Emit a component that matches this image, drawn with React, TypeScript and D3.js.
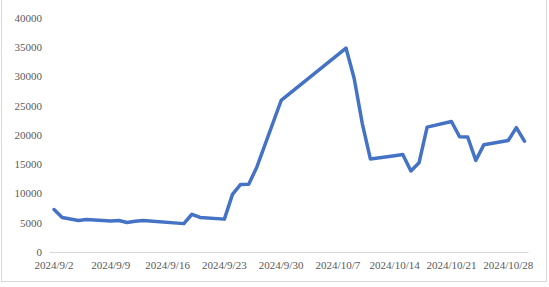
import React from "react";
import * as d3 from "d3";

const dates = [
  "2024-09-02","2024-09-03","2024-09-04","2024-09-05","2024-09-06",
  "2024-09-09","2024-09-10","2024-09-11","2024-09-12","2024-09-13",
  "2024-09-18","2024-09-19","2024-09-20",
  "2024-09-23","2024-09-24","2024-09-25","2024-09-26","2024-09-27",
  "2024-09-30",
  "2024-10-08","2024-10-09","2024-10-10","2024-10-11",
  "2024-10-14","2024-10-15","2024-10-16","2024-10-17","2024-10-18",
  "2024-10-21","2024-10-22","2024-10-23","2024-10-24","2024-10-25",
  "2024-10-28","2024-10-29","2024-10-30",
];
const values = [
  7250, 5900, 5650, 5400, 5550,
  5300, 5380, 5050, 5250, 5400,
  4850, 6450, 5900,
  5620, 9850, 11550, 11600, 14500,
  25900,
  34850, 29700, 22000, 15900,
  16450, 16650, 13850, 15250, 21350,
  22300, 19700, 19650, 15650, 18350,
  19050, 21250, 18950,
];
const yTicks = [0, 5000, 10000, 15000, 20000, 25000, 30000, 35000, 40000];
const xTickDates = [
  "2024-09-02","2024-09-09","2024-09-16","2024-09-23","2024-09-30",
  "2024-10-07","2024-10-14","2024-10-21","2024-10-28",
];

const W = 549, H = 287;
const parse = (s: string) => {
  const [y, m, d] = s.split("-").map(Number);
  return new Date(y, m - 1, d);
};
const fmt = (dt: Date) => `${dt.getFullYear()}/${dt.getMonth() + 1}/${dt.getDate()}`;

export default function App() {
  const x = d3.scaleTime()
    .domain([new Date(2024, 8, 1, 12), new Date(2024, 9, 30, 12)])
    .range([50, 528.5]);
  const y = d3.scaleLinear().domain([0, 40000]).range([252, 18]);
  const pts = dates.map((d, i) => [x(parse(d)), y(values[i])] as [number, number]);
  const line = d3.line<[number, number]>().x(p => p[0]).y(p => p[1]);
  const font = "'Liberation Serif', 'DejaVu Serif', serif";
  return (
    <div style={{ position: "fixed", left: 0, top: 0 }}>
      <svg width={W} height={H} style={{ display: "block", background: "#fff" }}>
        <rect x={1.5} y={-2} width={545} height={283.5} fill="#fff" stroke="#d9d9d9" strokeWidth={1} />
        <line x1={x.range()[0]} x2={x.range()[1]} y1={y(0) + 0.5} y2={y(0) + 0.5} stroke="#d9d9d9" strokeWidth={1} />
        {yTicks.map(t => (
          <text key={t} x={42} y={y(t)} dy="0.35em" textAnchor="end" fontSize={11} fill="#595959" fontFamily={font}>
            {t}
          </text>
        ))}
        {xTickDates.map(s => (
          <text key={s} x={x(parse(s))} y={269} textAnchor="middle" fontSize={11} fill="#595959" fontFamily={font}>
            {fmt(parse(s))}
          </text>
        ))}
        <path d={line(pts) || ""} fill="none" stroke="#4472C4" strokeWidth={3.5} strokeLinejoin="round" strokeLinecap="round" />
      </svg>
    </div>
  );
}
